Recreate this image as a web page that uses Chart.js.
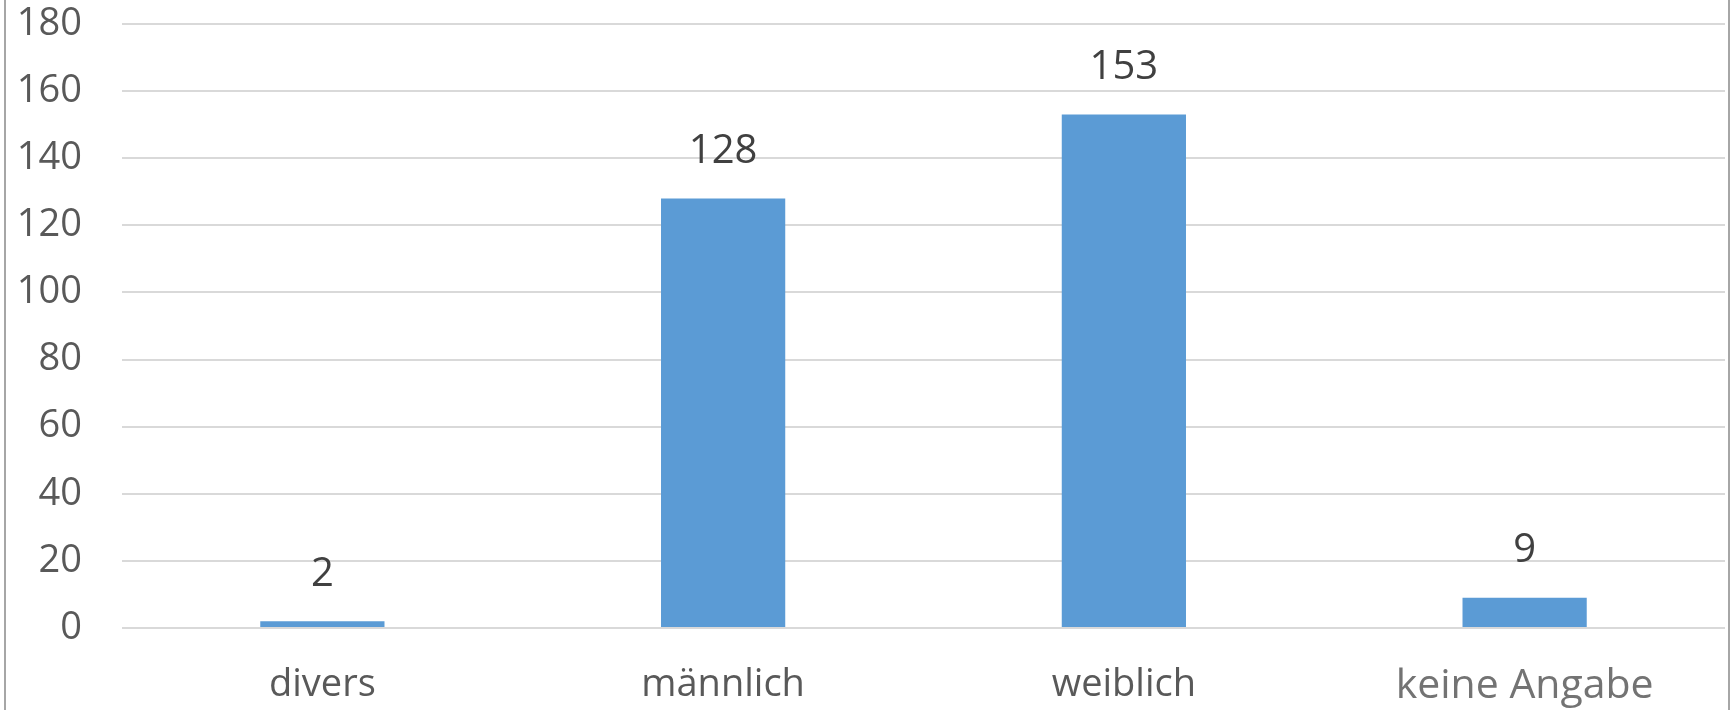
<!DOCTYPE html>
<html>
<head>
<meta charset="utf-8">
<script src="https://cdn.jsdelivr.net/npm/chart.js@4.4.1/dist/chart.umd.min.js"></script>
<style>
  html, body { margin: 0; padding: 0; background: #fff; }
  #wrap { position: relative; width: 1733px; height: 710px; }
</style>
</head>
<body>
<div id="wrap"><canvas id="c" width="1733" height="710"></canvas></div>
<script>
// Geschlecht – Balkendiagramm
const categories = ['divers', 'männlich', 'weiblich', 'keine Angabe'];
const counts = [2, 128, 153, 9];
const yTicks = [0, 20, 40, 60, 80, 100, 120, 140, 160, 180];

const FONT = "'Open Sans', 'Noto Sans', sans-serif";

// values above the bars
const valueLabels = {
  id: 'valueLabels',
  afterDatasetsDraw(chart) {
    const ctx = chart.ctx;
    const meta = chart.getDatasetMeta(0);
    ctx.save();
    ctx.font = `40px ${FONT}`;
    ctx.fillStyle = '#404040';
    ctx.textAlign = 'center';
    ctx.textBaseline = 'middle';
    meta.data.forEach((bar, i) => {
      ctx.fillText(String(counts[i]), bar.x, bar.y - 47);
    });
    ctx.restore();
  },
};

// thin frame lines left/right like the pasted chart box
const frame = {
  id: 'frame',
  beforeDraw(chart) {
    const ctx = chart.ctx;
    ctx.save();
    ctx.strokeStyle = '#a6a6a6';
    ctx.lineWidth = 2;
    ctx.beginPath();
    ctx.moveTo(5, 0); ctx.lineTo(5, chart.height);
    ctx.moveTo(chart.width - 4, 0); ctx.lineTo(chart.width - 4, chart.height);
    ctx.stroke();
    ctx.restore();
  },
};

new Chart(document.getElementById('c'), {
  type: 'bar',
  data: {
    labels: categories,
    datasets: [{
      data: counts,
      backgroundColor: '#5b9bd5',
      borderWidth: 0,
      barPercentage: 0.31,
      categoryPercentage: 1,
    }],
  },
  options: {
    responsive: false,
    animation: false,
    devicePixelRatio: 1,
    layout: { padding: { top: 24, right: 8, left: 0, bottom: 0 } },
    plugins: { legend: { display: false }, tooltip: { enabled: false } },
    scales: {
      x: {
        grid: { display: false, drawTicks: false },
        border: { display: false },
        ticks: {
          color: (c) => (c.index === 3 ? '#737373' : '#595959'),
          font: (c) => ({ family: FONT, size: c.index === 3 ? 41 : 38 }),
          padding: 34,
          maxRotation: 0,
          autoSkip: false,
        },
        afterFit(s) { s.height = 82; s.paddingLeft = 0; s.paddingRight = 0; },
      },
      y: {
        min: 0,
        max: 180,
        afterBuildTicks(s) { s.ticks = yTicks.map((v) => ({ value: v })); },
        grid: { color: '#d9d9d9', lineWidth: 2, drawTicks: false },
        border: { display: false },
        ticks: {
          color: '#595959',
          font: { family: FONT, size: 38 },
          padding: 40,
        },
        afterFit(s) { s.width = 122; s.paddingTop = 0; s.paddingBottom = 0; },
      },
    },
  },
  plugins: [frame, valueLabels],
});
</script>
</body>
</html>
